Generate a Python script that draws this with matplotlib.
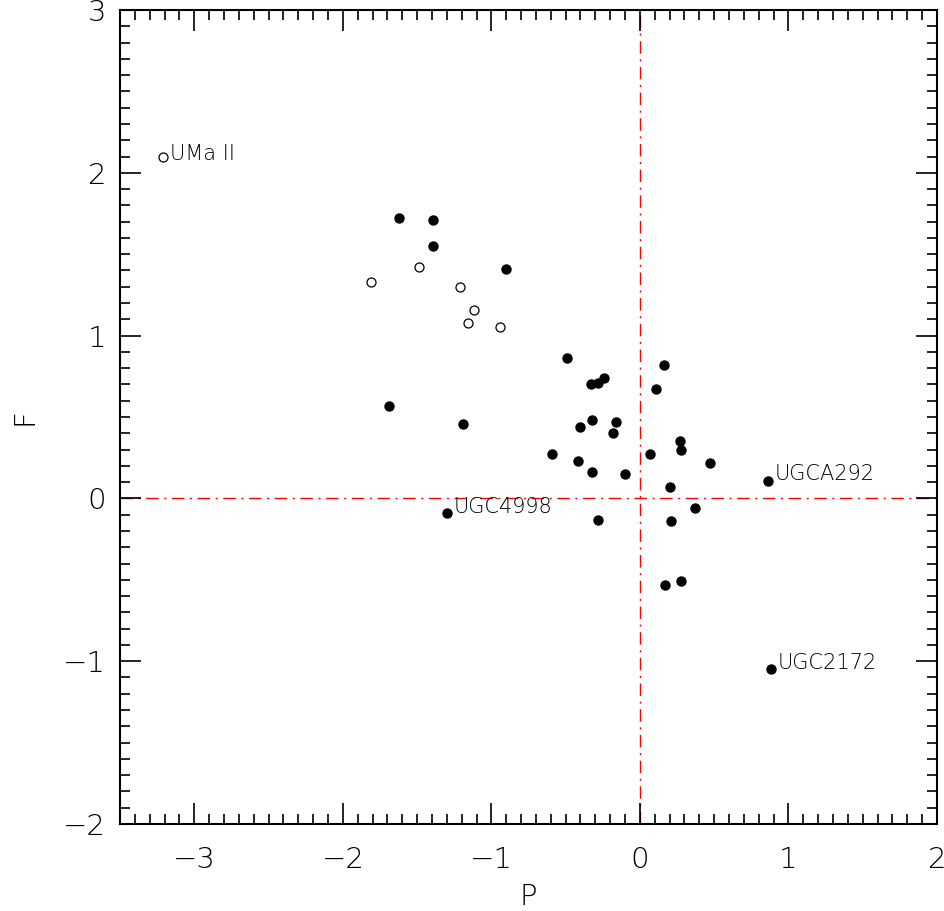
import matplotlib
matplotlib.use('Agg')
import matplotlib.pyplot as plt
from matplotlib.ticker import MultipleLocator

# open symbols
open_P = [-3.21, -1.81, -1.49, -1.21, -1.12, -1.16, -0.94]
open_F = [2.10, 1.33, 1.42, 1.30, 1.16, 1.08, 1.05]

# filled symbols
filled_P = [-1.62, -1.39, -1.39, -0.90, -0.49, -1.69, -1.19,
            0.16, -0.24, -0.28, -0.33, 0.11, -0.32, -0.16, -0.40, -0.18,
            0.27, 0.28, -0.59, 0.07, 0.47, -0.42, -0.32, -0.10, 0.20,
            0.37, -0.28, 0.21, 0.17, 0.28, 0.86, 0.88, -1.30]
filled_F = [1.72, 1.71, 1.55, 1.41, 0.86, 0.57, 0.46,
            0.82, 0.74, 0.71, 0.70, 0.67, 0.48, 0.47, 0.44, 0.40,
            0.35, 0.30, 0.27, 0.27, 0.22, 0.23, 0.16, 0.15, 0.07,
            -0.06, -0.13, -0.14, -0.53, -0.51, 0.11, -1.05, -0.09]

# labelled objects
lab_names = ['UMa II', 'UGCA292', 'UGC2172', 'UGC4998']
lab_P = [-3.21, 0.86, 0.88, -1.30]
lab_F = [2.10, 0.11, -1.05, -0.09]

plt.rcParams['font.family'] = ['DejaVu Sans']

fig = plt.figure(figsize=(9.45, 9.11), dpi=100)
ax = fig.add_axes([0.127, 0.0955, 0.8645, 0.8935])

ax.axhline(0, color='red', lw=1, ls='-.', dashes=(9, 4, 1.5, 4), zorder=1)
ax.axvline(0, color='red', lw=1, ls='-.', dashes=(9, 4, 1.5, 4), zorder=1)

ax.scatter(filled_P, filled_F, s=42, c='black', zorder=3)
ax.scatter(open_P, open_F, s=42, facecolors='white', edgecolors='black',
           linewidths=0.9, zorder=3)

for name, p, f in zip(lab_names, lab_P, lab_F):
    dy = 0.015 if name == 'UMa II' else 0.04
    ax.text(p + 0.045, f + dy, name, fontsize=15, fontweight='light',
            va='center', ha='left', color='black')

ax.set_xlim(-3.5, 2)
ax.set_ylim(-2, 3)
ax.xaxis.set_major_locator(MultipleLocator(1))
ax.xaxis.set_minor_locator(MultipleLocator(0.1))
ax.yaxis.set_major_locator(MultipleLocator(1))
ax.yaxis.set_minor_locator(MultipleLocator(0.1))
ax.tick_params(which='both', direction='in', top=True, right=True, width=1.2)
ax.tick_params(which='major', length=15)
ax.tick_params(which='minor', length=7)
ax.tick_params(axis='x', which='major', pad=16, labelsize=21)
ax.tick_params(axis='y', which='major', pad=10, labelsize=21)
for lbl in ax.get_xticklabels() + ax.get_yticklabels():
    lbl.set_fontweight('light')
for sp in ax.spines.values():
    sp.set_linewidth(1.5)

ax.set_xlabel('P', fontsize=21, fontweight='light', labelpad=6)
ax.set_ylabel('F', fontsize=21, fontweight='light', labelpad=18)

plt.savefig('out.png', dpi=100)
